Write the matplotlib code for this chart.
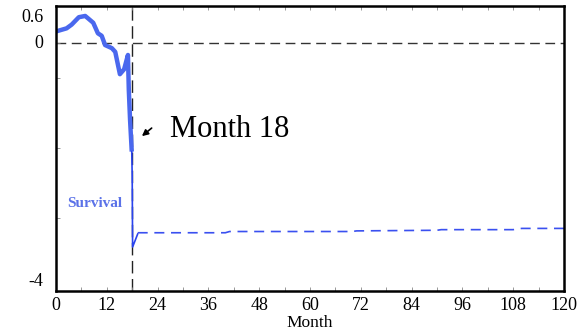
import matplotlib.pyplot as plt
from matplotlib.ticker import FixedLocator, NullFormatter

plt.rcParams['font.family'] = 'Liberation Serif'

# pre-break segment (thick)
pre_month = [0, 2.5, 3.7, 5.4, 6.9, 7.6, 8.8, 9.9, 10.8, 11.6, 13.2, 14.0, 15.1, 16.1, 17.0, 17.2, 17.5, 17.9]
pre_val = [0.19, 0.24, 0.30, 0.42, 0.44, 0.40, 0.33, 0.16, 0.12, -0.03, -0.08, -0.14, -0.50, -0.42, -0.19, -0.75, -1.24, -1.75]

# drop at the break (thin solid)
jump_month = [17.9, 18.0, 18.1, 19.3]
jump_val = [-1.75, -2.13, -3.29, -3.08]

# post-break segment (dashed)
post_month = [19.3, 40, 41, 70, 71, 90, 91, 108, 110, 120]
post_val = [-3.06, -3.06, -3.04, -3.04, -3.03, -3.02, -3.01, -3.01, -2.99, -2.99]

break_month = 18
xticks = list(range(0, 121, 12))

fig = plt.figure(figsize=(5.88, 3.36), dpi=100)
ax = fig.add_axes([0.0952, 0.134, 0.8640, 0.848])

ax.plot(pre_month, pre_val, color='#4a68ee', linewidth=3.2, solid_capstyle='butt')
ax.plot(jump_month, jump_val, color='#2a44ee', linewidth=1.2)
ax.plot(post_month, post_val, color='#3a50f0', linewidth=1.2, linestyle=(0, (6, 4)))

ax.axhline(0, color='#333333', linewidth=1.0, linestyle=(0, (7, 4)), zorder=1)
ax.axvline(break_month, color='#222222', linewidth=1.0, linestyle=(0, (9, 4)), zorder=1)

ax.set_xlim(0, 120)
ax.set_ylim(-4, 0.6)

ax.set_xticks(xticks)
ax.set_xticklabels([str(t) for t in xticks], fontsize=13)
ax.xaxis.set_minor_locator(FixedLocator(list(range(6, 120, 12))))
ax.tick_params(axis='x', which='both', direction='in', top=True, length=3, width=0.6, color='#888888', pad=4)

ax.set_yticks([0.6, 0, -4])
ax.set_yticklabels([])
ax.yaxis.set_minor_locator(FixedLocator([-0.56, -1.69, -2.82]))
ax.yaxis.set_minor_formatter(NullFormatter())
ax.tick_params(axis='y', which='both', direction='in', length=3, width=0.6, color='#888888')

ytrans = ax.get_yaxis_transform()
ax.text(-0.025, 0.42, '0.6', transform=ytrans, ha='right', va='center', fontsize=13)
ax.text(-0.025, 0, '0', transform=ytrans, ha='right', va='center', fontsize=13)
ax.text(-0.025, -3.84, '-4', transform=ytrans, ha='right', va='center', fontsize=13)

for s in ax.spines.values():
    s.set_linewidth(1.8)

ax.set_xlabel('Month', fontsize=12.5, labelpad=1)

ax.annotate('', xy=(20.3, -1.50), xytext=(22.6, -1.37),
            arrowprops=dict(arrowstyle='-|>', color='black', lw=1.2, mutation_scale=9,
                            shrinkA=0, shrinkB=0))
ax.text(27, -1.40, 'Month 18', fontsize=22, ha='left', va='center')
ax.text(2.6, -2.58, 'Survival', fontsize=11, fontweight='bold', color='#5b72e8', ha='left', va='center')

fig.savefig('out.png', dpi=100)
